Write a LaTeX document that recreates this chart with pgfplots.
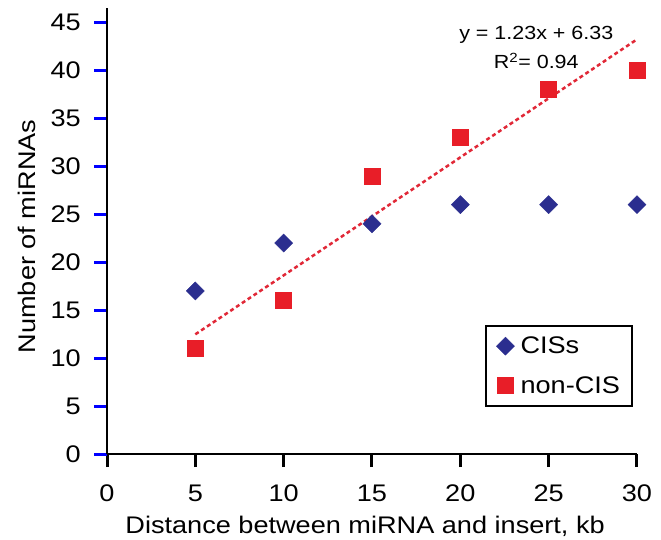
\documentclass[border=0pt]{standalone}
\usepackage{fontspec}
\setmainfont[FakeStretch=1.13]{Liberation Sans}
\usepackage{pgfplots}
\pgfplotsset{compat=1.18}
\definecolor{cisblue}{RGB}{43,46,143}
\definecolor{nonred}{RGB}{232,30,40}
\definecolor{fitred}{RGB}{225,40,55}

\begin{document}
\begin{tikzpicture}
\begin{axis}[
    scale only axis, width=530pt, height=446pt,
    xmin=0, xmax=30, ymin=0, ymax=46.5,
    axis x line*=bottom, axis y line*=left,
    axis line style={line width=2pt},
    xtick={0,5,...,30}, ytick={0,5,...,45},
    tick align=outside, major tick length=13pt,
    xtick style={draw=black, line width=3pt},
    ytick style={draw=blue, line width=3pt},
    tick label style={font=\fontsize{24}{26}\selectfont, inner sep=0pt},
    xticklabel style={anchor=north, yshift=-18pt},
    yticklabel style={anchor=east, xshift=-13pt},
    /pgf/number format/assume math mode=true,
    xlabel={Distance between miRNA and insert, kb},
    ylabel={Number of miRNAs},
    xlabel style={font=\fontsize{24}{26}\selectfont, at={(rel axis cs:0.487,-0.139)}, anchor=north, inner sep=0pt},
    ylabel style={font=\fontsize{24}{26}\selectfont, at={(rel axis cs:-0.168,0.4877)}, anchor=north, inner sep=0pt},
    legend style={at={(rel axis cs:0.9925,0.2892)}, anchor=north east, draw=black, line width=2pt,
        font=\fontsize{24}{26}\selectfont, row sep=17pt, inner xsep=10pt, inner ysep=9pt,
        /tikz/every odd column/.append style={column sep=4pt}},
    legend cell align=left,
    clip=false,
]
% fitted line for non-CIS
\addplot[fitred, line width=2.5pt, dash pattern=on 4pt off 3pt, forget plot]
    coordinates {(5,12.48) (30,43.23)};
\addplot[only marks, mark=square*, mark size=6.4pt,
    mark options={rotate=45, fill=cisblue, draw=cisblue, line width=0.4pt}]
    coordinates {(5,17) (10,22) (15,24) (20,26) (25,26) (30,26)};
\addplot[only marks, mark=square*, mark size=8pt,
    mark options={fill=nonred, draw=nonred, line width=0.4pt}]
    coordinates {(5,11) (10,16) (15,29) (20,33) (25,38) (30,40)};
\legend{CISs, non-CIS}
\node[font=\fontsize{19}{29}\selectfont, align=center] at (axis cs:24.3,42.4)
    {y = 1.23x + 6.33\\R\textsuperscript{2}= 0.94};
\path (rel axis cs:-0.2019,-0.1906) rectangle (rel axis cs:1.0453,1.018);
\end{axis}
\end{tikzpicture}
\end{document}
